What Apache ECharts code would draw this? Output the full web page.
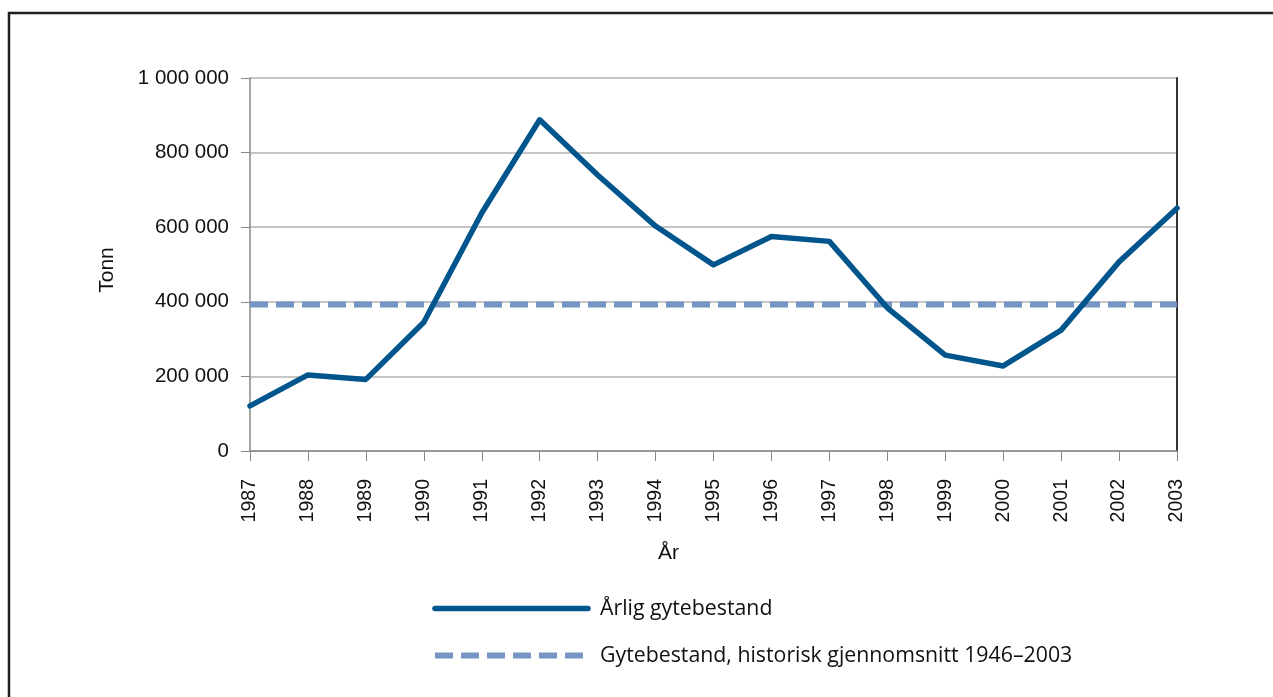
<!DOCTYPE html>
<html>
<head>
<meta charset="utf-8">
<script src="https://cdn.jsdelivr.net/npm/echarts@6/dist/echarts.min.js"></script>
<style>
html,body{margin:0;padding:0;background:#fff;}
#chart{width:1273px;height:697px;}
</style>
</head>
<body>
<div id="chart"></div>
<script>
var years = ['1987','1988','1989','1990','1991','1992','1993','1994','1995','1996','1997','1998','1999','2000','2001','2002','2003'];
var annualStock = [121000, 204000, 192000, 345000, 638000, 888000, 740000, 603000, 499000, 575000, 562000, 384000, 257000, 228000, 324000, 507000, 651000];
var historicalAverage = 393000;
var seriesNames = ['Årlig gytebestand', 'Gytebestand, historisk gjennomsnitt 1946–2003'];

var averageLine = [[years[0], historicalAverage], [years[years.length - 1], historicalAverage]];

function fmt(v) {
  return String(v).replace(/\B(?=(\d{3})+(?!\d))/g, ' ');
}

var mainColor = '#00558c';
var avgColor = '#7596c4';
var mainLine = {color: mainColor, width: 5.5, join: 'round', cap: 'round'};
var avgLine = {color: avgColor, width: 6, type: [18, 8]};

var chart = echarts.init(document.getElementById('chart'), null, {renderer: 'canvas'});
var labelFont = 'Liberation Sans, Arial, sans-serif';
var option = {
  animation: false,
  backgroundColor: '#ffffff',
  grid: {left: 250, right: 96, top: 78, bottom: 246, containLabel: false},
  graphic: [{
    type: 'rect',
    shape: {x: 9, y: 13, width: 1400, height: 1000},
    style: {fill: 'none', stroke: '#231f20', lineWidth: 2.5},
    silent: true
  }],
  legend: {
    orient: 'vertical',
    left: 432,
    top: 595.5,
    padding: 0,
    itemWidth: 153,
    itemHeight: 26,
    itemGap: 21,
    itemStyle: {opacity: 0, borderWidth: 0},
    data: [
      {name: seriesNames[0], lineStyle: mainLine, itemStyle: {opacity: 0}},
      {name: seriesNames[1], lineStyle: avgLine, itemStyle: {opacity: 0}}
    ],
    textStyle: {fontFamily: 'Open Sans', fontSize: 21.3, lineHeight: 26, color: '#111', padding: [0, 0, 0, 7]}
  },
  xAxis: {
    type: 'category',
    data: years,
    boundaryGap: false,
    name: 'År',
    nameLocation: 'middle',
    nameGap: 92,
    nameTextStyle: {fontFamily: labelFont, fontSize: 21, color: '#111', padding: [0, 90, 0, 0]},
    axisLine: {lineStyle: {color: '#888', width: 1.5}},
    axisTick: {show: true, length: 10, alignWithLabel: true, lineStyle: {color: '#888'}},
    axisLabel: {rotate: 90, fontFamily: labelFont, fontSize: 19.5, color: '#111', margin: 28, interval: 0},
    splitLine: {show: false}
  },
  yAxis: [{
    type: 'value',
    min: 0,
    max: 1000000,
    interval: 200000,
    name: 'Tonn',
    nameLocation: 'middle',
    nameGap: 132,
    nameRotate: 90,
    nameTextStyle: {fontFamily: labelFont, fontSize: 21, color: '#111', padding: [0, 11, 0, 0]},
    axisLine: {show: true, lineStyle: {color: '#888', width: 1.5}},
    axisTick: {show: true, length: 9, lineStyle: {color: '#888'}},
    axisLabel: {fontFamily: labelFont, fontSize: 20.5, color: '#111', margin: 21, formatter: fmt},
    splitLine: {show: true, lineStyle: {color: '#b3b3b3', width: 1.5}}
  }, {
    type: 'value',
    position: 'right',
    min: 0,
    max: 1000000,
    interval: 200000,
    axisLine: {show: true, lineStyle: {color: '#333', width: 2}},
    axisTick: {show: false},
    axisLabel: {show: false},
    splitLine: {show: false}
  }],
  series: [{
    name: seriesNames[0],
    type: 'line',
    data: annualStock,
    symbol: 'none',
    lineStyle: mainLine,
    itemStyle: {color: mainColor},
    z: 3
  }, {
    name: seriesNames[1],
    type: 'line',
    data: averageLine,
    symbol: 'none',
    lineStyle: avgLine,
    itemStyle: {color: avgColor},
    z: 2
  }]
};
chart.setOption(option);
</script>
</body>
</html>
